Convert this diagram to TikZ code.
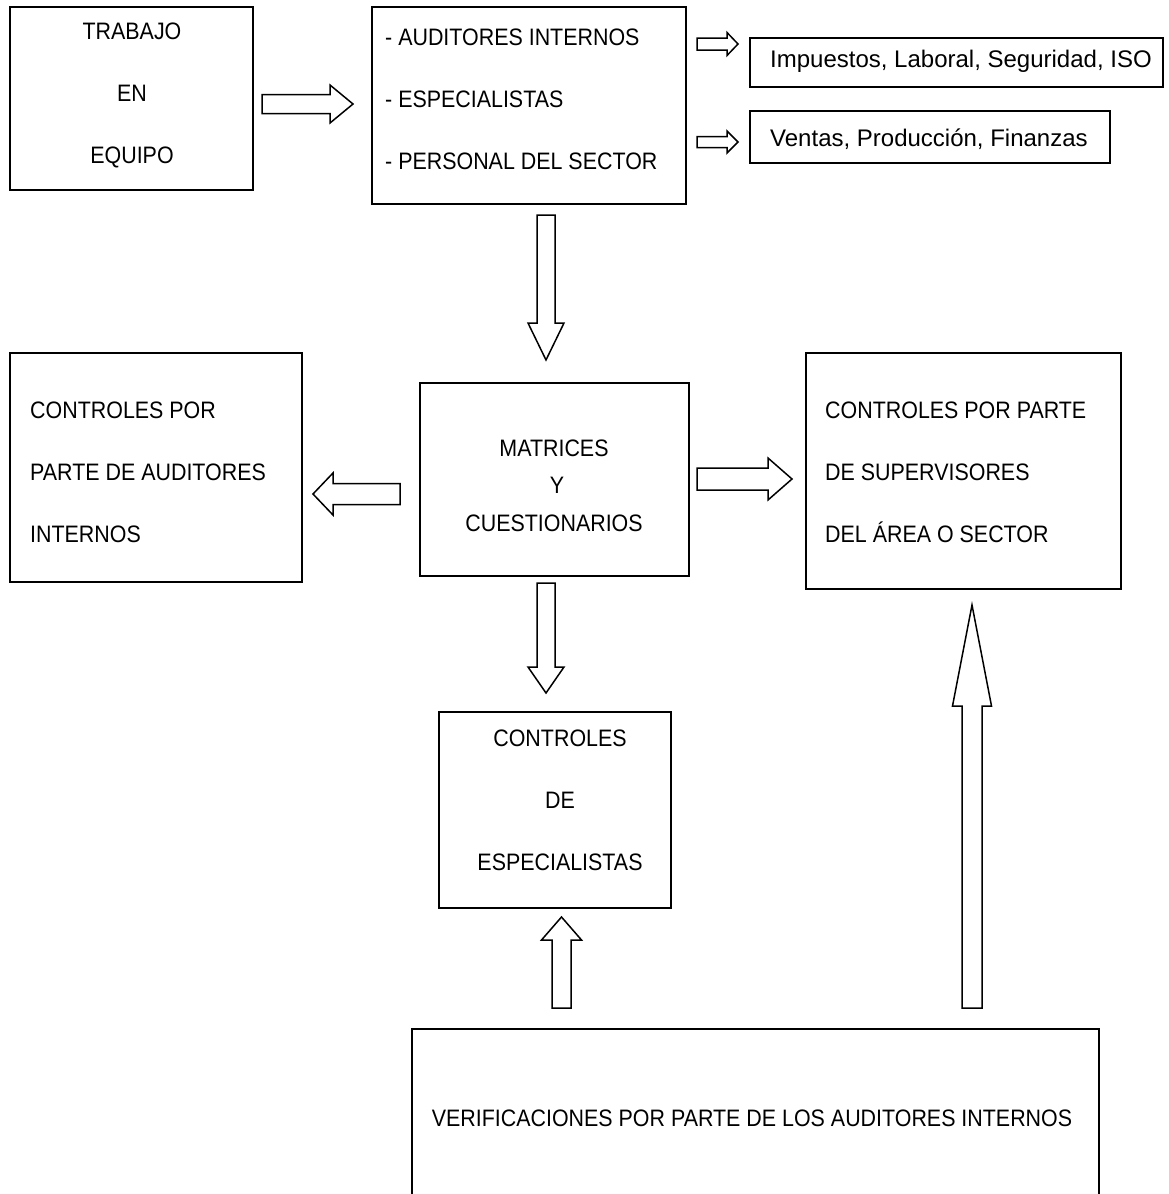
\documentclass[tikz,border=0pt]{standalone}
\usepackage{fontspec}
\setmainfont{Liberation Sans}
\newfontfamily\capsfont[FakeStretch=0.9]{Liberation Sans}
\newcommand\blkH[6]{\draw[barrow] (#1,#4-#5) -- (#2,#4-#5) -- (#2,#4-#6) -- (#3,#4) -- (#2,#4+#6) -- (#2,#4+#5) -- (#1,#4+#5) -- cycle;}
\newcommand\blkV[6]{\draw[barrow] (#4-#5,#1) -- (#4-#5,#2) -- (#4-#6,#2) -- (#4,#3) -- (#4+#6,#2) -- (#4+#5,#2) -- (#4+#5,#1) -- cycle;}
\begin{document}
\begin{tikzpicture}[x=1pt,y=-1pt,
  box/.style={draw, line width=1.6pt, inner sep=0pt},
  txt/.style={inner sep=0pt, font=\capsfont\fontsize{23.8}{62}\selectfont},
  ltxt/.style={inner sep=0pt, font=\fontsize{24}{30}\selectfont},
  barrow/.style={draw, line width=1.5pt, fill=white, line join=miter}]
\useasboundingbox[fill=white] (0,0) rectangle (1169,1194);
% boxes
\node[box, minimum width=243pt, minimum height=183pt] (b1) at (131.5,98.5) {};
\node[box, minimum width=314pt, minimum height=197pt] (b2) at (529,105.5) {};
\node[box, minimum width=413pt, minimum height=49pt] (b3) at (956.5,62.5) {};
\node[box, minimum width=360pt, minimum height=52pt] (b4) at (930,137) {};
\node[box, minimum width=269pt, minimum height=193pt] (b5) at (554.5,479.5) {};
\node[box, minimum width=292pt, minimum height=229pt] (b6) at (156,467.5) {};
\node[box, minimum width=315pt, minimum height=236pt] (b7) at (963.5,471) {};
\node[box, minimum width=232pt, minimum height=196pt] (b8) at (555,810) {};
\node[box, minimum width=687pt, minimum height=178pt] (b9) at (755.5,1118) {};
% texts
\node[txt, align=center] (t1) at (132,95.5) {TRABAJO\\EN\\EQUIPO};
\node[txt, align=left, anchor=west] (t2) at (385,99.5) {- AUDITORES INTERNOS\\- ESPECIALISTAS\\- PERSONAL DEL SECTOR};
\node[ltxt, anchor=west] (t3) at (770,61) {Impuestos, Laboral, Seguridad, ISO};
\node[ltxt, anchor=west] (t4) at (770,139) {Ventas, Producción, Finanzas};
\node[txt, align=center, font=\capsfont\fontsize{23.8}{37.5}\selectfont] (t5) at (554,485.5) {MATRICES\\\ Y\\CUESTIONARIOS};
\node[txt, align=left, anchor=west] (t6) at (30,472.5) {CONTROLES POR\\PARTE DE AUDITORES\\INTERNOS};
\node[txt, align=left, anchor=west] (t7) at (825,472.5) {CONTROLES POR PARTE\\DE SUPERVISORES\\DEL ÁREA O SECTOR};
\node[txt, align=center] (t8) at (560,800) {CONTROLES\\DE\\ESPECIALISTAS};
\node[txt] (t9) at (752,1118) {VERIFICACIONES POR PARTE DE LOS AUDITORES INTERNOS};
% block arrows
\blkH{262}{330}{353}{104}{9.5}{19}
\blkH{697}{727}{738}{44}{6}{11.5}
\blkH{697}{727}{738}{142}{5.5}{11}
\blkH{400}{333}{313}{494}{10.5}{21}
\blkH{697}{768}{792}{479}{11}{21}
\blkV{215}{323}{360}{546}{9}{18}
\blkV{583}{667}{693}{546}{9}{18}
\blkV{1008}{940}{917}{561.5}{9.5}{20}
\blkV{1008}{706}{605}{972}{10}{19.5}
\end{tikzpicture}
\end{document}
